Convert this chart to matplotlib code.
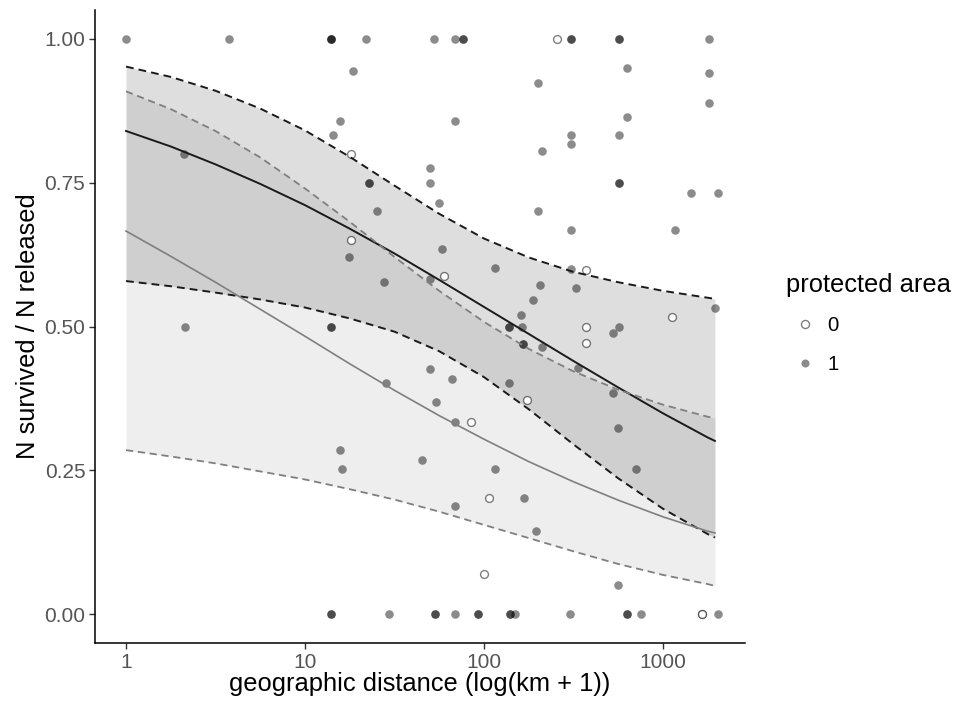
import matplotlib
matplotlib.use("Agg")
import matplotlib.pyplot as plt
from matplotlib.lines import Line2D

plt.rcParams["font.family"] = ["Liberation Sans", "DejaVu Sans"]

# Released-animal survival vs. geographic distance, split by protected area
# protected area = 1 (filled points)
pa1_km = [1, 3.75, 14, 14, 14, 21.9, 18.5, 15.7, 14.3, 22.7, 22.7, 25.2, 2.12,
          52.8, 68.9, 76.7, 76.7, 306, 306, 568, 568, 1815, 632, 199.5, 1815,
          1815, 68.9, 632, 306, 306, 568, 210, 49.9, 49.9, 568, 568, 1433, 2037,
          56.3, 199.5, 17.7, 27.5, 2.14, 14, 14, 28.4, 306, 1167, 58.5, 115,
          306, 205.5, 325, 187, 49.9, 161, 138, 138, 162, 166, 166, 212, 570,
          527, 1950, 336, 527, 49.9, 66, 138, 54, 68.9, 563, 44.9, 115, 704,
          167, 68.9, 195, 563, 15.7, 16.1,
          14, 14, 29.6, 53.2, 53.2, 68.9, 93, 93, 140, 140, 149, 302, 632, 632,
          750, 2037]
pa1_surv = [1.0, 1.0, 1.0, 1.0, 1.0, 1.0, 0.944, 0.858, 0.833, 0.75, 0.75, 0.70, 0.80,
            1.0, 1.0, 1.0, 1.0, 1.0, 1.0, 1.0, 1.0, 1.0, 0.95, 0.923, 0.94,
            0.889, 0.857, 0.864, 0.833, 0.817, 0.833, 0.806, 0.775, 0.75, 0.75, 0.75, 0.733, 0.733,
            0.715, 0.70, 0.62, 0.578, 0.50, 0.50, 0.50, 0.402, 0.667, 0.667, 0.634, 0.601,
            0.60, 0.572, 0.567, 0.546, 0.582, 0.52, 0.50, 0.50, 0.50, 0.47, 0.47, 0.465, 0.50,
            0.488, 0.532, 0.428, 0.385, 0.426, 0.408, 0.401, 0.369, 0.334, 0.323, 0.268, 0.252, 0.252,
            0.201, 0.188, 0.144, 0.05, 0.286, 0.252,
            0.0, 0.0, 0.0, 0.0, 0.0, 0.0, 0.0, 0.0, 0.0, 0.0, 0.0, 0.0, 0.0, 0.0,
            0.0, 0.0]

# protected area = 0 (open points)
pa0_km = [18.1, 18.1, 60, 371, 371, 371, 1117, 173, 84.3, 107, 100, 255, 1660, 1660]
pa0_surv = [0.80, 0.65, 0.587, 0.598, 0.50, 0.471, 0.517, 0.372, 0.334, 0.201, 0.069,
            1.0, 0.0, 0.0]

# Fitted binomial curves with 95% confidence limits
curve_km = [1, 1.78, 3.16, 5.62, 10, 17.8, 31.6, 56.2, 100, 178, 316, 562, 1000,
            1778, 1950]
fit_dark = [0.840, 0.813, 0.782, 0.748, 0.711, 0.670, 0.627, 0.581, 0.534, 0.487,
            0.440, 0.394, 0.349, 0.307, 0.301]
upr_dark = [0.952, 0.934, 0.910, 0.879, 0.841, 0.795, 0.745, 0.696, 0.653, 0.620,
            0.595, 0.577, 0.562, 0.550, 0.548]
lwr_dark = [0.579, 0.570, 0.559, 0.547, 0.533, 0.514, 0.491, 0.457, 0.412, 0.356,
            0.295, 0.236, 0.183, 0.139, 0.133]
fit_light = [0.666, 0.622, 0.577, 0.530, 0.483, 0.435, 0.389, 0.345, 0.304, 0.265,
             0.230, 0.198, 0.169, 0.144, 0.141]
upr_light = [0.909, 0.878, 0.840, 0.794, 0.740, 0.682, 0.621, 0.562, 0.508, 0.461,
             0.422, 0.390, 0.364, 0.343, 0.341]
lwr_light = [0.285, 0.274, 0.262, 0.248, 0.234, 0.217, 0.199, 0.178, 0.155, 0.132,
             0.109, 0.087, 0.068, 0.052, 0.049]

x_ticks = [1, 10, 100, 1000]
x_tick_labels = ["1", "10", "100", "1000"]
y_ticks = [0.0, 0.25, 0.5, 0.75, 1.0]
y_tick_labels = ["0.00", "0.25", "0.50", "0.75", "1.00"]

fig = plt.figure(figsize=(9.57, 7.11), dpi=100)
ax = fig.add_axes([95 / 957, 68 / 711, 650 / 957, 633 / 711])

# confidence ribbons
ax.fill_between(curve_km, lwr_light, upr_light, color="black", alpha=0.065,
                linewidth=0, zorder=1)
ax.fill_between(curve_km, lwr_dark, upr_dark, color="black", alpha=0.13,
                linewidth=0, zorder=1)

# observations
ax.scatter(pa1_km, pa1_surv, s=38, color="black", alpha=0.45, linewidths=0,
           zorder=2)
ax.scatter(pa0_km, pa0_surv, s=32, facecolors="white",
           edgecolors=(0, 0, 0, 0.5), linewidths=1.0, zorder=2)

# fitted curves and confidence limits
dash = (0, (4, 2.6))
ax.plot(curve_km, fit_dark, color="#1a1a1a", lw=1.4, zorder=3)
ax.plot(curve_km, upr_dark, color="#1a1a1a", lw=1.4, linestyle=dash, zorder=3)
ax.plot(curve_km, lwr_dark, color="#1a1a1a", lw=1.4, linestyle=dash, zorder=3)
ax.plot(curve_km, fit_light, color="#7f7f7f", lw=1.2, zorder=3)
ax.plot(curve_km, upr_light, color="#7f7f7f", lw=1.3, linestyle=dash, zorder=3)
ax.plot(curve_km, lwr_light, color="#7f7f7f", lw=1.3, linestyle=dash, zorder=3)

ax.set_xscale("log")
ax.set_xlim(0.671, 2871)
ax.set_ylim(-0.0504, 1.0504)
ax.set_xticks(x_ticks)
ax.set_xticklabels(x_tick_labels)
ax.set_yticks(y_ticks)
ax.set_yticklabels(y_tick_labels)
ax.minorticks_off()
ax.tick_params(axis="both", length=4, width=1.0, color="#333333",
               labelcolor="#555555", labelsize=15, pad=3)

for side in ("top", "right"):
    ax.spines[side].set_visible(False)
for side in ("left", "bottom"):
    ax.spines[side].set_linewidth(1.1)
    ax.spines[side].set_color("black")

ax.set_xlabel("geographic distance (log(km + 1))", fontsize=18.4, color="black")
ax.set_ylabel("N survived / N released", fontsize=18.4, color="black")
ax.xaxis.set_label_coords(0.5, -0.046)
ax.yaxis.set_label_coords(-0.085, 0.5)

handles = [
    Line2D([], [], linestyle="none", marker="o", markersize=5.8,
           markerfacecolor="white", markeredgecolor=(0, 0, 0, 0.5),
           markeredgewidth=1.0),
    Line2D([], [], linestyle="none", marker="o", markersize=5.8,
           markerfacecolor=(0, 0, 0, 0.45), markeredgewidth=0),
]
leg = ax.legend(handles, ["0", "1"], title="protected area",
                loc="upper left", bbox_to_anchor=(786 / 957, (711 - 273) / 711),
                bbox_transform=fig.transFigure, frameon=False, borderpad=0,
                borderaxespad=0, handlelength=1.86, handletextpad=0.15,
                labelspacing=0.95, fontsize=14.7, title_fontsize=18.4,
                alignment="left")
for t in leg.get_texts():
    t.set_color("black")

fig.savefig("out.png", dpi=100)
